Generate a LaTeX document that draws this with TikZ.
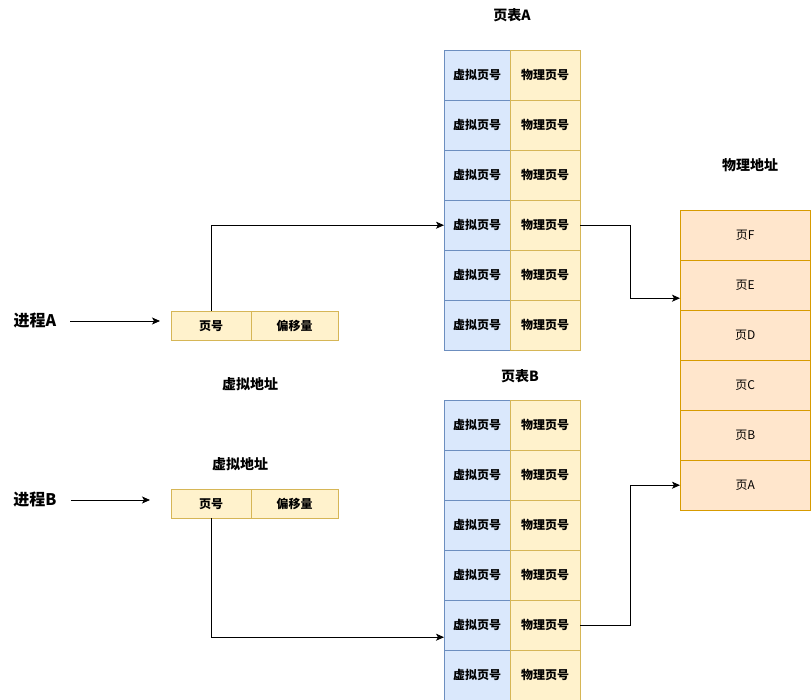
\documentclass[tikz,border=0pt]{standalone}
\usepackage{fontspec}
\setmainfont{Noto Sans CJK SC}
\usepackage{tikz}
\usetikzlibrary{positioning}
\usetikzlibrary{arrows.meta}
\definecolor{vbluefill}{HTML}{DAE8FC}
\definecolor{vblue}{HTML}{6C8EBF}
\definecolor{pyellowfill}{HTML}{FFF2CC}
\definecolor{pyellow}{HTML}{D6B656}
\definecolor{memfill}{HTML}{FFE6CC}
\definecolor{memdraw}{HTML}{D79B00}
\tikzstyle{cell}=[inner sep=0pt, anchor=north west, font=\fontsize{12}{14}\selectfont\bfseries]
\tikzstyle{vcell}=[cell, draw=vblue, fill=vbluefill, minimum width=66pt, minimum height=50pt]
\tikzstyle{pcell}=[cell, draw=pyellow, fill=pyellowfill, minimum width=70pt, minimum height=50pt]
\tikzstyle{addr}=[cell, draw=pyellow, fill=pyellowfill, minimum height=29pt]
\tikzstyle{mem}=[cell, draw=memdraw, fill=memfill, minimum width=130pt, minimum height=50pt, font=\fontsize{12}{14}\selectfont]
\tikzstyle{title}=[font=\fontsize{14}{16}\selectfont\bfseries]
\tikzstyle{proc}=[font=\fontsize{16}{18}\selectfont\bfseries, inner sep=0pt]
\tikzstyle{link}=[-{Stealth[length=8pt,width=7pt,inset=2pt]}, line width=0.8pt]

\begin{document}
\begin{tikzpicture}[x=1pt, y=-1pt]
\useasboundingbox (0,0) rectangle (811,700);
% titles
\node[title] (tabAtitle) at (512,15){页表A};
\node[title] (tabBtitle) at (520,376){页表B};
\node[title] (memtitle) at (750,165){物理地址};
\node[title] (vaddr1) at (250,384){虚拟地址};
\node[title] (vaddr2) at (240,464){虚拟地址};
% page table A
\node[vcell] (va1) at (444,50){虚拟页号};
\node[vcell] (va2) at (444,100){虚拟页号};
\node[vcell] (va3) at (444,150){虚拟页号};
\node[vcell] (va4) at (444,200){虚拟页号};
\node[vcell] (va5) at (444,250){虚拟页号};
\node[vcell] (va6) at (444,300){虚拟页号};
\node[pcell] (pa1) at (510,50){物理页号};
\node[pcell] (pa2) at (510,100){物理页号};
\node[pcell] (pa3) at (510,150){物理页号};
\node[pcell] (pa4) at (510,200){物理页号};
\node[pcell] (pa5) at (510,250){物理页号};
\node[pcell] (pa6) at (510,300){物理页号};
% page table B
\node[vcell] (vb1) at (444,400){虚拟页号};
\node[vcell] (vb2) at (444,450){虚拟页号};
\node[vcell] (vb3) at (444,500){虚拟页号};
\node[vcell] (vb4) at (444,550){虚拟页号};
\node[vcell] (vb5) at (444,600){虚拟页号};
\node[vcell] (vb6) at (444,650){虚拟页号};
\node[pcell] (pb1) at (510,400){物理页号};
\node[pcell] (pb2) at (510,450){物理页号};
\node[pcell] (pb3) at (510,500){物理页号};
\node[pcell] (pb4) at (510,550){物理页号};
\node[pcell] (pb5) at (510,600){物理页号};
\node[pcell] (pb6) at (510,650){物理页号};
% physical memory
\node[mem] (memF) at (680,210){页F};
\node[mem] (memE) at (680,260){页E};
\node[mem] (memD) at (680,310){页D};
\node[mem] (memC) at (680,360){页C};
\node[mem] (memB) at (680,410){页B};
\node[mem] (memA) at (680,460){页A};
% processes
\node[proc] (procA) at (35,321){进程A};
\node[proc] (procB) at (35,500){进程B};
\node[addr, minimum width=80pt] (pageA) at (171,311){页号};
\node[addr, minimum width=87pt] (offA) at (251,311){偏移量};
\node[addr, minimum width=80pt] (pageB) at (171,489){页号};
\node[addr, minimum width=87pt] (offB) at (251,489){偏移量};
% arrows
\draw[link, shorten <=14pt, shorten >=11pt] (procA.east) -- (procA.east -| pageA.west);
\draw[link, shorten <=14pt, shorten >=21pt] (procB.east) -- (procB.east -| pageB.west);
\draw[link] (pageA.north) |- (va4.west);
\draw[link] (pa4.east) -- ++(50,0) |- ([yshift=-13pt]memE.west);
\draw[link] (pageB.south) |- ([yshift=-12pt]vb5.west);
\draw[link] (pb5.east) -- ++(50,0) |- (memA.west);
\end{tikzpicture}
\end{document}
